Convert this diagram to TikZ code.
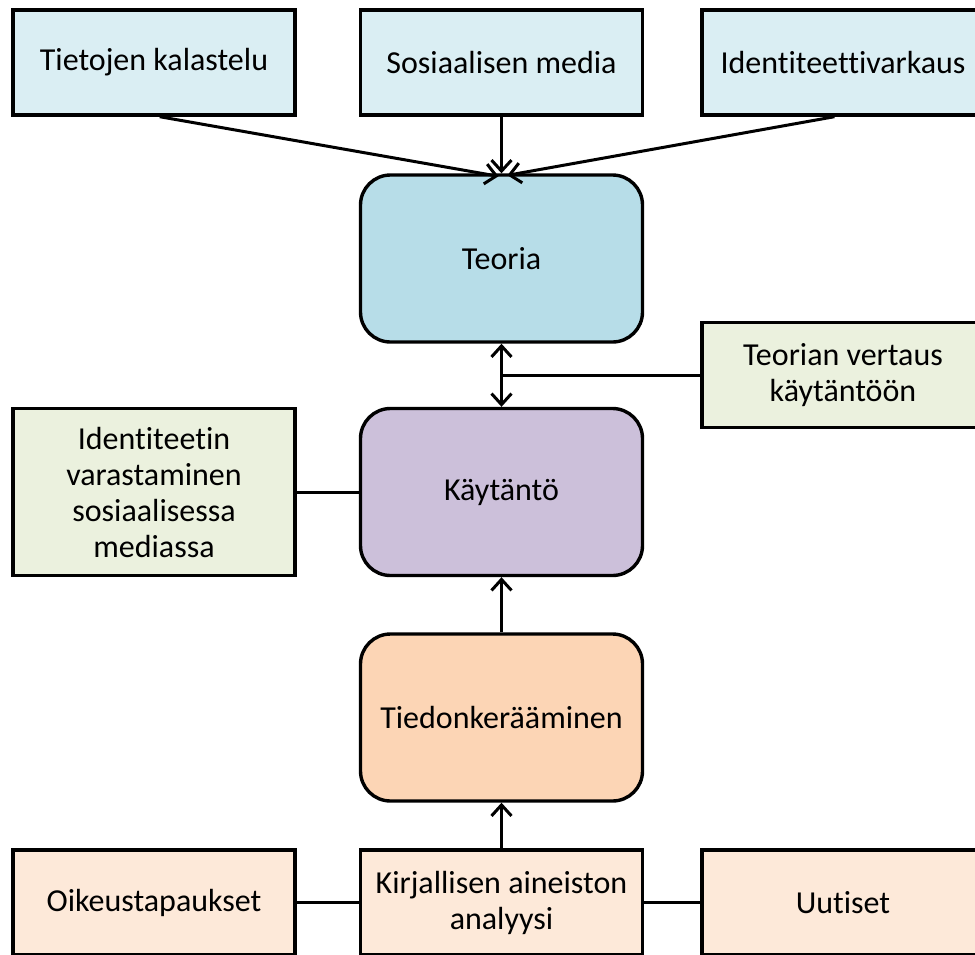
\documentclass[tikz,border=0pt]{standalone}
\usepackage{fontspec}
\setmainfont[Ligatures=NoCommon]{Carlito}
\usetikzlibrary{arrows.meta,calc}
\definecolor{topblue}{HTML}{DAEEF3}
\definecolor{theoryblue}{HTML}{B7DDE8}
\definecolor{palegreen}{HTML}{EBF1DE}
\definecolor{lilac}{HTML}{CCC0DA}
\definecolor{peach}{HTML}{FCD5B5}
\definecolor{palepeach}{HTML}{FDE9D9}
\tikzset{
  box/.style={draw=black, line width=3.4pt, minimum width=282pt, minimum height=105pt,
    inner sep=2pt, align=center, font=\fontsize{32}{36}\selectfont, text=black},
  stage/.style={box, rounded corners=30pt, minimum height=167pt},
  link/.style={line width=3pt},
  tip/.style={Straight Barb[length=11pt,width=20pt,line width=3pt]},
  arr/.style={link, -{Straight Barb[length=11pt,width=20pt,line width=3pt]}},
  darr/.style={link, {Straight Barb[length=11pt,width=20pt,line width=3pt]}-{Straight Barb[length=11pt,width=20pt,line width=3pt]}}
}
\begin{document}
\begin{tikzpicture}[x=1pt,y=-1pt]
\useasboundingbox (0,0) rectangle (975,954);
\clip (0,0) rectangle (975,954);

% top row: topics
\node[box, fill=topblue] (tk) at (154,62.5) {Tietojen kalastelu};
\node[box, fill=topblue] (sm) at (501.5,62.5) {Sosiaalisen media};
\node[box, fill=topblue] (iv) at (843,62.5) {Identiteettivarkaus};

% central column
\node[stage, fill=theoryblue] (te) at (501.5,258.5) {Teoria};
\node[stage, fill=lilac] (ka) at (501.5,492) {Käytäntö};
\node[stage, fill=peach] (ti) at (501.5,717.5) {Tiedonkerääminen};

% side boxes
\node[box, fill=palegreen] (tv) at (843,375) {Teorian vertaus\\käytäntöön};
\node[box, fill=palegreen, minimum height=167pt] (id) at (154,492)
  {Identiteetin\\varastaminen\\sosiaalisessa\\mediassa};

% bottom row: sources
\node[box, fill=palepeach] (oi) at (154,902.5) {Oikeustapaukset};
\node[box, fill=palepeach] (ki) at (501.5,902.5) {Kirjallisen aineiston\\analyysi};
\node[box, fill=palepeach] (uu) at (843,902.5) {Uutiset};

% connectors
\draw[arr] ($(tk.south west)!0.52!(tk.south east)$) -- ($(te.north)+(-3,3)$);
\draw[arr] (sm.south) -- (te.north);
\draw[arr] ($(iv.south west)!0.47!(iv.south east)$) -- ($(te.north)+(6,2)$);
\draw[darr] (te.south) -- (ka.north);
\draw[link] (tv.west) -- (tv.west -| te.south);
\draw[link] (id.east) -- (ka.west);
\draw[arr] (ti.north) -- (ka.south);
\draw[arr] (ki.north) -- (ti.south);
\draw[link] (oi.east) -- (ki.west);
\draw[link] (ki.east) -- (uu.west);
\end{tikzpicture}
\end{document}
